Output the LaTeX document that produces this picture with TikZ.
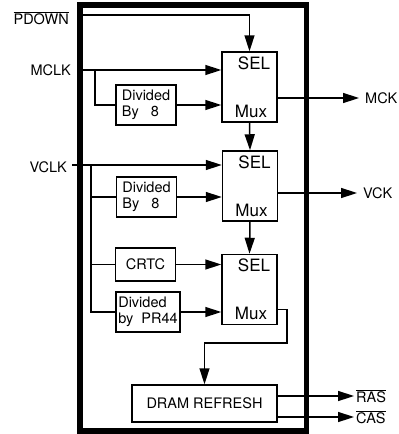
\documentclass[tikz,border=0pt]{standalone}
\usepackage{fontspec}
\setmainfont{TeX Gyre Heros}
\usepackage{tikz}
\usetikzlibrary{positioning,arrows.meta}

\begin{document}
\begin{tikzpicture}[
    x=1pt, y=-1pt,
    wire/.style={line width=1.5pt},
    arrow/.style={wire, -{Triangle[length=16pt, width=10pt]}},
    selbox/.style={rectangle, draw, line width=1.5pt, minimum width=55pt, minimum height=70pt},
    divbox/.style={rectangle, draw, line width=1.5pt, minimum width=60pt, minimum height=40pt, align=left, inner sep=2pt, font=\fontsize{14.5}{16}\selectfont},
    sig/.style={inner sep=0pt, font=\fontsize{14.5}{16}\selectfont},
    seltext/.style={inner sep=0pt, font=\fontsize{17}{19}\selectfont},
    frame/.style={line width=5.5pt}
]
\useasboundingbox (0,0) rectangle (399,434);

% Chip outline
\draw[frame] (80,5) rectangle (306.5,431);

% Pin names
\node[sig, anchor=east] (pdown) at (69,18)  {$\overline{\mbox{PDOWN}}$};
\node[sig, anchor=east] (mclk)  at (71,70)  {MCLK};
\node[sig, anchor=east] (vclk)  at (67,167) {VCLK};
\node[sig, anchor=west] (mck)   at (365,98)  {MCK};
\node[sig, anchor=west] (vck)   at (363,193) {VCK};
\node[sig, anchor=west] (ras)   at (356,396) {$\overline{\mbox{RAS}}$};
\node[sig, anchor=west] (cas)   at (356,417) {$\overline{\mbox{CAS}}$};

% Selectors
\node[selbox] (sel1) at (249.5,87)   {};
\node[selbox] (sel2) at (250,186)    {};
\node[selbox] (sel3) at (249.5,289.5) {};
\foreach \s in {sel1,sel2,sel3} {
  \node[seltext, anchor=north] (\s-sel) at ([xshift=4.5pt, yshift=-5pt]\s.north) {SEL};
  \node[seltext, anchor=south] (\s-mux) at ([xshift=1.5pt, yshift=5pt]\s.south) {Mux};
}

% Dividers and CRTC
\node[divbox] (div1) at (146,105)   {Divided\\By~~~8};
\node[divbox] (div2) at (146.5,197) {Divided\\By~~~8};
\node[divbox, minimum height=33pt] (crtc) at (145.5,264.5) {CRTC};
\node[divbox, minimum width=64pt] (div3) at (148,312) {Divided\\by~~PR44};
\node[divbox, minimum width=145pt, minimum height=37pt, align=center] (dram) at (204.5,403.5) {DRAM REFRESH};

\coordinate (pdin)   at (80,15);
\coordinate (mclkin) at (80,70);
\coordinate (mbr)    at (95,70);
\coordinate (vclkin) at (72,165);
\coordinate (vbr)    at (91,165);
\coordinate (bend)   at (287,343);

% MCLK path
\draw[arrow] (pdin) -| (sel1.north);
\draw[arrow] (mclkin) -- (mclkin -| sel1.west);
\draw[wire]  (mbr) |- (div1.west);
\draw[arrow] (div1.east) -- (div1.east -| sel1.west);
\draw[arrow, shorten >=6pt] (sel1.east |- mck.west) -- (mck.west);

% VCLK path
\draw[arrow] (vclkin) -- (vclkin -| sel2.west);
\draw[wire]  (vbr) |- (div3.west);
\draw[wire]  (vbr |- div2.west) -- (div2.west);
\draw[wire]  (vbr |- crtc.west) -- (crtc.west);
\draw[arrow] (div2.east) -- (div2.east -| sel2.west);
\draw[arrow] (crtc.east) -- (crtc.east -| sel3.west);
\draw[arrow] (div3.east) -- (div3.east -| sel3.west);
\draw[arrow, shorten >=6pt] (sel2.east |- vck.west) -- (vck.west);

% Chain of selectors
\draw[arrow] (sel1.south) -- (sel2.north);
\draw[arrow] (sel2.south) -- (sel3.north);
\draw[arrow] ([yshift=-20pt]sel3.east) -| (bend) -| (dram.north);

% Refresh outputs
\draw[arrow, shorten >=2pt] (dram.east |- ras.west) -- (ras.west);
\draw[arrow, shorten >=2pt] (dram.east |- cas.west) -- (cas.west);

\end{tikzpicture}
\end{document}
